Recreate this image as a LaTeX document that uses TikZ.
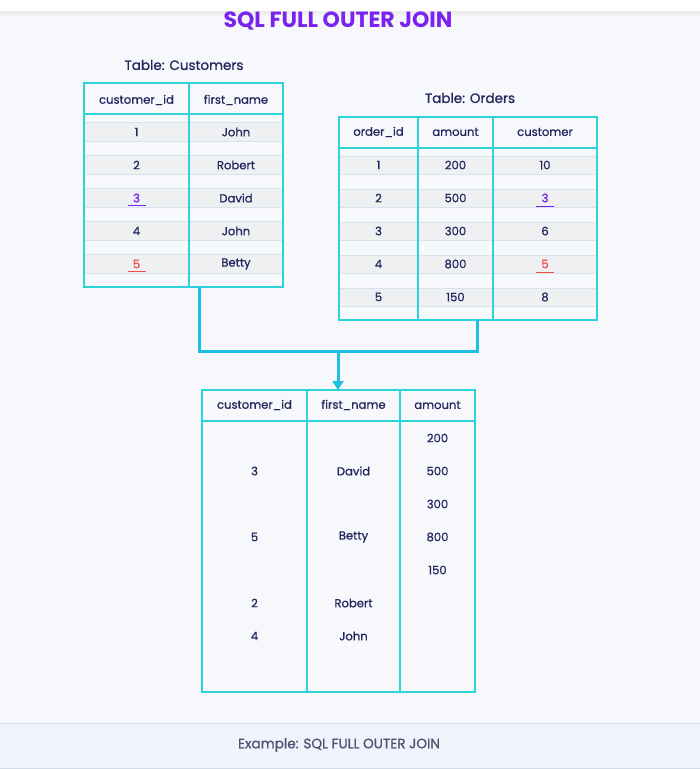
\documentclass[tikz,border=0pt]{standalone}
\usepackage{fontspec}
\setmainfont{Poppins}
\newfontfamily\medf[FakeBold=0.9]{Poppins}
\usetikzlibrary{arrows.meta,calc}
\definecolor{bgc}{HTML}{F7F8FB}
\definecolor{tline}{HTML}{2DD3DB}
\definecolor{connc}{HTML}{1EBFE0}
\definecolor{stripec}{HTML}{EFF0F2}
\definecolor{stripel}{HTML}{D6E2EE}
\definecolor{txtc}{HTML}{25265E}
\definecolor{purp}{HTML}{7A22EE}
\definecolor{redc}{HTML}{F04A4A}
\definecolor{capband}{HTML}{EFF3FB}
\definecolor{capline}{HTML}{D3DAE8}
\definecolor{capt}{HTML}{50536F}
\begin{document}
\begin{tikzpicture}[x=1pt,y=-1pt,
  tbox/.style={draw=tline, line width=1.8pt, inner sep=0pt, outer sep=0pt, anchor=north west},
  colline/.style={draw=tline, line width=1.8pt},
  txt/.style={text=txtc, font=\medf\fontsize{11.6}{14}\selectfont, inner sep=0pt},
  ttl/.style={text=txtc, font=\medf\fontsize{13.5}{16}\selectfont, inner sep=0pt},
  conn/.style={draw=connc, line width=3pt},
  uline/.style={line width=1.8pt},
  stripe/.style={fill=stripec},
  sline/.style={draw=stripel, line width=0.6pt}]
\useasboundingbox (0,0) rectangle (700,769);
\fill[bgc] (0,0) rectangle (700,769);
\fill[white] (0,0) rectangle (700,11);
\shade[top color=black!8, bottom color=bgc] (0,11) rectangle (700,17);
% caption band
\fill[capband] (0,723) rectangle (700,768);
\draw[capline, line width=0.8pt] (0,723) -- (700,723);
\draw[capline, line width=0.8pt] (0,768) -- (700,768);
\node[text=capt, font=\medf\fontsize{13.6}{15}\selectfont, inner sep=0pt] (cap) at (339,745) {Example: SQL FULL OUTER JOIN};
% title
\node[text=purp, font=\fontsize{22}{26}\selectfont\bfseries, inner sep=0pt] (title) at (338,21) {SQL FULL OUTER JOIN};
% ---------- Customers ----------
\node[ttl] (custttl) at (184,65) {Table: Customers};
\foreach \c in {132,165,198,231,264}{
  \fill[stripe] (84,\c-10) rectangle (283,\c+9);
  \draw[sline] (84,\c-10) -- (283,\c-10);
  \draw[sline] (84,\c+9) -- (283,\c+9);
}
\node[tbox, minimum width=199pt, minimum height=204pt] (cust) at (84,83) {};
\draw[colline] (84,114) -- (283,114);
\draw[colline] (189,83) -- (189,287);
\node[txt] (ch1) at (136.5,100) {customer\_id};
\node[txt] (ch2) at (236,100) {first\_name};
\node[txt] (cid1) at (136.5,132) {1};
\node[txt] (cid2) at (136.5,165) {2};
\node[txt, text=purp] (cid3) at (136.5,198) {3};
\node[txt] (cid4) at (136.5,231) {4};
\node[txt, text=redc] (cid5) at (136.5,264) {5};
\draw[uline, purp] (128,205.5) -- (146,205.5);
\draw[uline, redc] (128,271.5) -- (146,271.5);
\node[txt] (cn1) at (236,132) {John};
\node[txt] (cn2) at (236,165) {Robert};
\node[txt] (cn3) at (236,198) {David};
\node[txt] (cn4) at (236,231) {John};
\node[txt] (cn5) at (236,264) {Betty};
% ---------- Orders ----------
\node[ttl] (ordttl) at (470,98) {Table: Orders};
\foreach \c in {165,198,231,264,297}{
  \fill[stripe] (339,\c-9) rectangle (597,\c+9);
  \draw[sline] (339,\c-9) -- (597,\c-9);
  \draw[sline] (339,\c+9) -- (597,\c+9);
}
\node[tbox, minimum width=258pt, minimum height=203pt] (ord) at (339,117) {};
\draw[colline] (339,148) -- (597,148);
\draw[colline] (418,117) -- (418,320);
\draw[colline] (493,117) -- (493,320);
\node[txt] (oh1) at (378.5,132) {order\_id};
\node[txt] (oh2) at (455.5,132) {amount};
\node[txt] (oh3) at (545,132) {customer};
\foreach \i/\c/\a in {1/165/200,2/198/500,3/231/300,4/264/800,5/297/150}{
  \node[txt] (oid\i) at (378.5,\c) {\i};
  \node[txt] (oam\i) at (455.5,\c) {\a};
}
\node[txt] (ocu1) at (545,165) {10};
\node[txt, text=purp] (ocu2) at (545,198) {3};
\node[txt] (ocu3) at (545,231) {6};
\node[txt, text=redc] (ocu4) at (545,264) {5};
\node[txt] (ocu5) at (545,297) {8};
\draw[uline, purp] (536,206.5) -- (554,206.5);
\draw[uline, redc] (536,272.5) -- (554,272.5);
% ---------- Connector ----------
\coordinate (cs) at ($(cust.south west)+(115,0)$);
\coordinate (os) at ($(ord.south west)+(138,0)$);
\coordinate (jn) at (338,351);
\node[tbox, minimum width=273pt, minimum height=302pt] (res) at (202,390) {};
\draw[conn] (cs) |- (jn) -| (os);
\draw[conn, -{Triangle[length=9pt,width=11pt]}] (jn) -- (jn |- res.north);
% ---------- Result ----------
\draw[colline] (202,421) -- (475,421);
\draw[colline] (307,390) -- (307,692);
\draw[colline] (400,390) -- (400,692);
\node[txt] (rh1) at (254.5,405) {customer\_id};
\node[txt] (rh2) at (353.5,405) {first\_name};
\node[txt] (rh3) at (437.5,405) {amount};
\node[txt] (ra1) at (437.5,438) {200};
\node[txt] (ra2) at (437.5,471) {500};
\node[txt] (ra3) at (437.5,504) {300};
\node[txt] (ra4) at (437.5,537) {800};
\node[txt] (ra5) at (437.5,570) {150};
\node[txt] (ri1) at (254.5,471) {3};
\node[txt] (ri2) at (254.5,537) {5};
\node[txt] (ri3) at (254.5,603) {2};
\node[txt] (ri4) at (254.5,636) {4};
\node[txt] (rn1) at (353.5,471) {David};
\node[txt] (rn2) at (353.5,537) {Betty};
\node[txt] (rn3) at (353.5,603) {Robert};
\node[txt] (rn4) at (353.5,636) {John};
\end{tikzpicture}
\end{document}
